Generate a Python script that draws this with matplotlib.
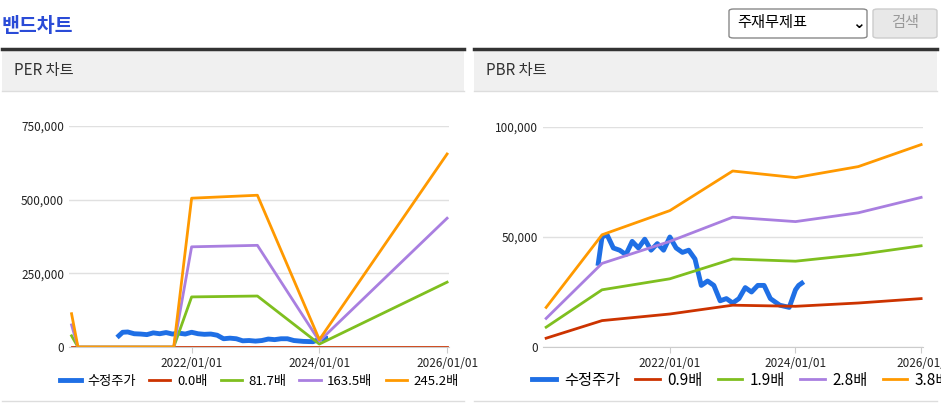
import matplotlib
matplotlib.use("Agg")
import matplotlib.pyplot as plt
from matplotlib.patches import Rectangle, FancyBboxPatch
from matplotlib.lines import Line2D
from matplotlib import font_manager

names = {f.name for f in font_manager.fontManager.ttflist}
fams = [n for n in ["Noto Sans CJK KR", "Noto Sans CJK JP", "Noto Sans CJK SC", "Noto Sans CJK TC"] if n in names]
plt.rcParams['font.family'] = fams + ["DejaVu Sans"]

# PER band data (x in fractional years)
per_x = [2020.12, 2020.22, 2021.72, 2022.0, 2023.03, 2024.0, 2026.0]
per_0 = [0, 0, 0, 0, 0, 0, 0]
per_817 = [38000, 0, 0, 170000, 173000, 10000, 220000]
per_1635 = [75000, 0, 0, 340000, 345000, 20000, 437000]
per_2452 = [113000, 0, 0, 505000, 515000, 25000, 655000]

# PBR band data
pbr_x = [2020.03, 2020.92, 2022.0, 2023.0, 2024.0, 2025.0, 2026.0]
pbr_09 = [4000, 12000, 15000, 19000, 18500, 20000, 22000]
pbr_19 = [9000, 26000, 31000, 40000, 39000, 42000, 46000]
pbr_28 = [13000, 38000, 48000, 59000, 57000, 61000, 68000]
pbr_38 = [18000, 51000, 62000, 80000, 77000, 82000, 92000]

# Adjusted price
price_x = [2020.86, 2020.92, 2021.0, 2021.1, 2021.2, 2021.3, 2021.4, 2021.5, 2021.6, 2021.7,
           2021.8, 2021.9, 2022.0, 2022.1, 2022.2, 2022.3, 2022.4, 2022.5, 2022.6, 2022.7,
           2022.8, 2022.9, 2023.0, 2023.1, 2023.2, 2023.3, 2023.4, 2023.5, 2023.6, 2023.75,
           2023.9, 2024.0, 2024.05, 2024.1]
price = [38000, 50000, 51000, 45000, 44000, 42000, 48000, 45000, 49000, 44000,
         47000, 44000, 50000, 45000, 43000, 44000, 40000, 28000, 30000, 28000,
         21000, 22000, 20000, 22000, 27000, 25000, 28000, 28000, 22000, 19000,
         18000, 26000, 28000, 29000]

xticks = [2022, 2024, 2026]
xtick_labels = ["2022/01/01", "2024/01/01", "2026/01/01"]

fig = plt.figure(figsize=(9.41, 4.07), dpi=100)
W, H = 941, 407
def fx(p): return p / W
def fy(p): return 1 - p / H

# Title and controls
fig.text(fx(2), fy(26), "밴드차트", color="#2a4bd7", fontsize=14, fontweight="bold", va="center")
fig.patches.append(FancyBboxPatch((fx(729), fy(38)), fx(138), 29/H, boxstyle="round,pad=0,rounding_size=0.005",
                                  transform=fig.transFigure, fc="white", ec="#888888", lw=1))
fig.text(fx(737), fy(23), "주재무제표", fontsize=11, va="center")
fig.text(fx(852), fy(23), "⌄", fontsize=11, va="center", fontweight="bold", family="DejaVu Sans")
fig.patches.append(FancyBboxPatch((fx(873), fy(38)), fx(64), 29/H, boxstyle="round,pad=0,rounding_size=0.005",
                                  transform=fig.transFigure, fc="#e8e8e8", ec="#cccccc", lw=1))
fig.text(fx(905), fy(23), "검색", fontsize=11, va="center", ha="center", color="#999999")

for x0, x1, label in [(2, 464, "PER 차트"), (474, 937, "PBR 차트")]:
    fig.patches.append(Rectangle((fx(x0), fy(91)), fx(x1 - x0), 43/H, transform=fig.transFigure,
                                 fc="#f0f0f0", ec="none"))
    fig.lines.append(Line2D([fx(x0), fx(x1)], [fy(49), fy(49)], transform=fig.transFigure, color="#333333", lw=2.5))
    fig.lines.append(Line2D([fx(x0), fx(x1)], [fy(91), fy(91)], transform=fig.transFigure, color="#dddddd", lw=1))
    fig.lines.append(Line2D([fx(x0), fx(x1)], [fy(401), fy(401)], transform=fig.transFigure, color="#dddddd", lw=1))
    fig.text(fx(x0 + 12), fy(71), label, fontsize=11, va="center", color="#333333")

def style(ax, ylim, yticks):
    ax.set_ylim(*ylim)
    ax.set_yticks(yticks)
    ax.set_yticklabels([f"{v:,}" for v in yticks])
    ax.set_xticks(xticks)
    ax.set_xticklabels(xtick_labels)
    ax.grid(axis="y", color="#e0e0e0", lw=1)
    ax.set_axisbelow(True)
    for s in ["top", "right", "left"]:
        ax.spines[s].set_visible(False)
    ax.spines["bottom"].set_color("#cccccc")
    ax.tick_params(axis="y", length=0, labelsize=8.5, colors="#222222")
    ax.tick_params(axis="x", length=4, color="#cccccc", labelsize=8.5, colors="#222222")

ax1 = fig.add_axes([fx(69), fy(347), fx(380), 221/H])
ax1.plot(price_x, price, color="#1f6fe5", lw=3.5, label="수정주가")
ax1.plot(per_x, per_0, color="#cc3300", lw=2, label="0.0배")
ax1.plot(per_x, per_817, color="#7fbf1f", lw=2, label="81.7배")
ax1.plot(per_x, per_1635, color="#a97fe0", lw=2, label="163.5배")
ax1.plot(per_x, per_2452, color="#ff9900", lw=2, label="245.2배")
ax1.set_xlim(2020.08, 2026.03)
style(ax1, (0, 750000), [0, 250000, 500000, 750000])
ax1.legend(loc="center left", bbox_to_anchor=(fx(48), fy(381)), bbox_transform=fig.transFigure,
           ncol=5, frameon=False, fontsize=9.5, handlelength=1.6, columnspacing=1.0, handletextpad=0.5)

ax2 = fig.add_axes([fx(543), fy(347), fx(380), 220/H])
ax2.plot(price_x, price, color="#1f6fe5", lw=3.5, label="수정주가")
ax2.plot(pbr_x, pbr_09, color="#cc3300", lw=2, label="0.9배")
ax2.plot(pbr_x, pbr_19, color="#7fbf1f", lw=2, label="1.9배")
ax2.plot(pbr_x, pbr_28, color="#a97fe0", lw=2, label="2.8배")
ax2.plot(pbr_x, pbr_38, color="#ff9900", lw=2, label="3.8배")
ax2.set_xlim(2019.98, 2026.03)
style(ax2, (0, 100000), [0, 50000, 100000])
ax2.set_xticklabels(["2022/01/01", "2024/01/01", "2026/01/"])
ax2.legend(loc="center left", bbox_to_anchor=(fx(518), fy(380)), bbox_transform=fig.transFigure,
           ncol=5, frameon=False, fontsize=11, handlelength=1.6, columnspacing=1.0, handletextpad=0.5)

fig.savefig("out.png", dpi=100)
